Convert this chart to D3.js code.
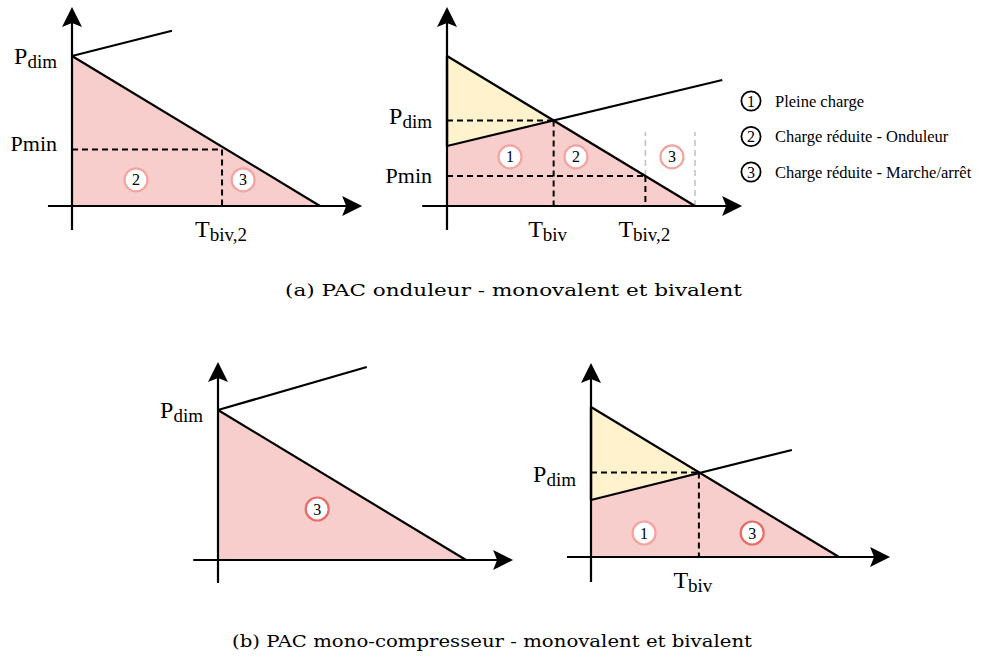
<!DOCTYPE html>
<html>
<head>
<meta charset="utf-8">
<script src="https://cdn.jsdelivr.net/npm/d3@7"></script>
<style>
  html, body { margin: 0; padding: 0; background: #fff; }
  svg { display: block; }
</style>
</head>
<body>
<svg id="fig" width="984" height="659"></svg>
<script>
// Normalised outdoor temperature t (0 = design temperature, 1 = zero heating load)
// and normalised power p (1 = design heating load of the building).
const heatingLoad = [[0, 1], [1, 0]];

// Heat-pump capacity line of each diagram
const capacityLines = [
  [[0, 1.00], [0.403, 1.168]],
  [[0, 0.40], [1.11, 0.84]],
  [[0, 1.00], [0.60, 1.287]],
  [[0, 0.38], [0.81, 0.713]]
];

// Bivalence point (T_biv, P_dim) where capacity meets the load
const bivalentPoints = [null, [0.43, 0.57], null, [0.435, 0.563]];

// Minimum modulation point (T_biv,2, P_min)
const minPowerPoints = [[0.605, 0.376], [0.80, 0.20], null, null];

// On/off band of the inverter unit: [t start, t end, p top]
const onOffBands = [null, [0.80, 1.0, 0.493], null, null];

// Operating-zone markers: [t, p, zone number]
const zoneMarkers = [
  [[0.258, 0.174, 2], [0.69, 0.174, 3]],
  [[0.254, 0.327, 1], [0.52, 0.327, 2], [0.907, 0.327, 3]],
  [[0.40, 0.34, 3]],
  [[0.214, 0.16, 1], [0.65, 0.16, 3]]
];

const legendLabels = ["Pleine charge", "Charge réduite - Onduleur", "Charge réduite - Marche/arrêt"];
const captions = ["(a) PAC onduleur - monovalent et bivalent",
                  "(b) PAC mono-compresseur - monovalent et bivalent"];

// ---- layout ----
const panelOrigins = [[72, 206], [447, 206], [218, 560], [591, 557]];
const axisExtents = [
  { x0: -0.097, x1: 1.17, y0: -0.16, y1: 1.327 },
  { x0: -0.10, x1: 1.19, y0: -0.16, y1: 1.327 },
  { x0: -0.10, x1: 1.19, y0: -0.153, y1: 1.32 },
  { x0: -0.097, x1: 1.206, y0: -0.167, y1: 1.293 }
];
const pdimLabelDy = [8, 3, 8, 9];
const pminLabelDy = [1, 7, 0, 0];

const PINK = "#f8cecc", YELLOW = "#fff2cc";
const MARK_LIGHT = "#f4a3a0", MARK_STRONG = "#ea6b66";
const SERIF = "'Liberation Serif', 'Times New Roman', serif";
const CAPTION_FONT = "'DejaVu Serif', serif";

const x = d3.scaleLinear().domain([0, 1]).range([0, 248]);
const y = d3.scaleLinear().domain([0, 1]).range([0, -150]);
const line = d3.line().x(d => x(d[0])).y(d => y(d[1]));
const poly = pts => line(pts) + "Z";

const svg = d3.select("#fig");

function arrowHead(g, tx, ty, dir) {
  // filled arrow with a shallow notch, pointing right ("x") or up ("y")
  const L = 20, Wd = 10, N = 16;
  const pts = dir === "x"
    ? [[tx, ty], [tx - L, ty - Wd], [tx - N, ty], [tx - L, ty + Wd]]
    : [[tx, ty], [tx - Wd, ty + L], [tx, ty + N], [tx + Wd, ty + L]];
  g.append("path").attr("d", "M" + pts.join("L") + "Z").attr("fill", "#000");
}

function subLabel(g, px, py, main, sub, anchor, mainSize, subSize) {
  const t = g.append("text")
    .attr("x", px).attr("y", py)
    .attr("text-anchor", anchor)
    .attr("font-family", SERIF)
    .attr("fill", "#000");
  t.append("tspan").attr("font-size", mainSize).text(main);
  if (sub) t.append("tspan").attr("font-size", subSize).attr("dy", 4).text(sub);
  return t;
}

panelOrigins.forEach((o, i) => {
  const g = svg.append("g").attr("transform", `translate(${o[0]},${o[1]})`);
  const cap = capacityLines[i];
  const biv = bivalentPoints[i];
  const pmin = minPowerPoints[i];
  const band = onOffBands[i];
  const ext = axisExtents[i];

  // operating areas
  if (biv) {
    g.append("path").attr("d", poly([[0, 1], biv, [0, cap[0][1]]])).attr("fill", YELLOW);
    g.append("path").attr("d", poly([[0, cap[0][1]], biv, heatingLoad[1], [0, 0]])).attr("fill", PINK);
  } else {
    g.append("path").attr("d", poly([heatingLoad[0], heatingLoad[1], [0, 0]])).attr("fill", PINK);
  }

  // on/off band boundaries
  if (band) {
    [[band[0], pmin ? pmin[1] : 0], [band[1], 0]].forEach(([t, p0]) => {
      g.append("path").attr("d", line([[t, p0], [t, band[2]]]))
        .attr("stroke", "#c4c4c4").attr("stroke-width", 1.6)
        .attr("stroke-dasharray", "6,4").attr("fill", "none");
    });
  }

  // reference dashed lines
  const dashed = [];
  if (biv) dashed.push([[0, biv[1]], biv], [biv, [biv[0], 0]]);
  if (pmin) dashed.push([[0, pmin[1]], pmin], [pmin, [pmin[0], 0]]);
  dashed.forEach(seg => {
    g.append("path").attr("d", line(seg))
      .attr("stroke", "#000").attr("stroke-width", 2)
      .attr("stroke-dasharray", "6,4").attr("fill", "none");
  });

  // axes
  g.append("path").attr("d", line([[ext.x0, 0], [ext.x1 - 0.06, 0]]))
    .attr("stroke", "#000").attr("stroke-width", 2.2);
  arrowHead(g, x(ext.x1), 0, "x");
  g.append("path").attr("d", line([[0, ext.y0], [0, ext.y1 - 0.1]]))
    .attr("stroke", "#000").attr("stroke-width", 2.2);
  arrowHead(g, 0, y(ext.y1), "y");

  // left edge of the backup-heat area
  if (biv) {
    g.append("path").attr("d", line([[0, 1], [0, cap[0][1]]]))
      .attr("stroke", "#000").attr("stroke-width", 2.4);
  }

  // heating load and heat-pump capacity
  [heatingLoad, cap].forEach(seg => {
    g.append("path").attr("d", line(seg))
      .attr("stroke", "#000").attr("stroke-width", 2.2).attr("fill", "none");
  });

  // zone markers
  zoneMarkers[i].forEach(([t, p, n]) => {
    const strong = i >= 2 && n === 3;
    g.append("circle").attr("cx", x(t)).attr("cy", y(p)).attr("r", 11.5)
      .attr("fill", "#fff").attr("stroke", strong ? MARK_STRONG : MARK_LIGHT).attr("stroke-width", 2.2);
    g.append("text").attr("x", x(t)).attr("y", y(p) + 5.5)
      .attr("text-anchor", "middle").attr("font-family", SERIF).attr("font-size", 16)
      .text(n);
  });

  // axis labels
  const pdimLevel = biv ? biv[1] : 1;
  subLabel(g, -15, y(pdimLevel) + pdimLabelDy[i], "P", "dim", "end", 24, 19);
  if (pmin) {
    subLabel(g, -15, y(pmin[1]) + pminLabelDy[i], "Pmin", null, "end", 22, 0);
    subLabel(g, x(pmin[0]) - 1, 31, "T", "biv,2", "middle", 24, 19);
  }
  if (biv) subLabel(g, x(biv[0]) - 6, 31, "T", "biv", "middle", 24, 19);
});

// legend
const legend = svg.append("g").attr("transform", "translate(751,101)");
legendLabels.forEach((lab, k) => {
  const row = legend.append("g").attr("transform", `translate(0,${k * 35.5})`);
  row.append("circle").attr("r", 9.6).attr("fill", "#fff").attr("stroke", "#000").attr("stroke-width", 1.8);
  row.append("text").attr("y", 5.5).attr("text-anchor", "middle")
    .attr("font-family", SERIF).attr("font-size", 16).text(k + 1);
  row.append("text").attr("x", 24).attr("y", 5.5)
    .attr("font-family", SERIF).attr("font-size", 16.5).text(lab);
});

// sub-figure captions
[[513.5, 296, 457], [492, 647, 520]].forEach(([cx, cy, w], k) => {
  svg.append("text").attr("x", cx).attr("y", cy)
    .attr("text-anchor", "middle").attr("font-family", CAPTION_FONT).attr("font-size", 17.5)
    .attr("textLength", w).attr("lengthAdjust", "spacingAndGlyphs")
    .text(captions[k]);
});
</script>
</body>
</html>
